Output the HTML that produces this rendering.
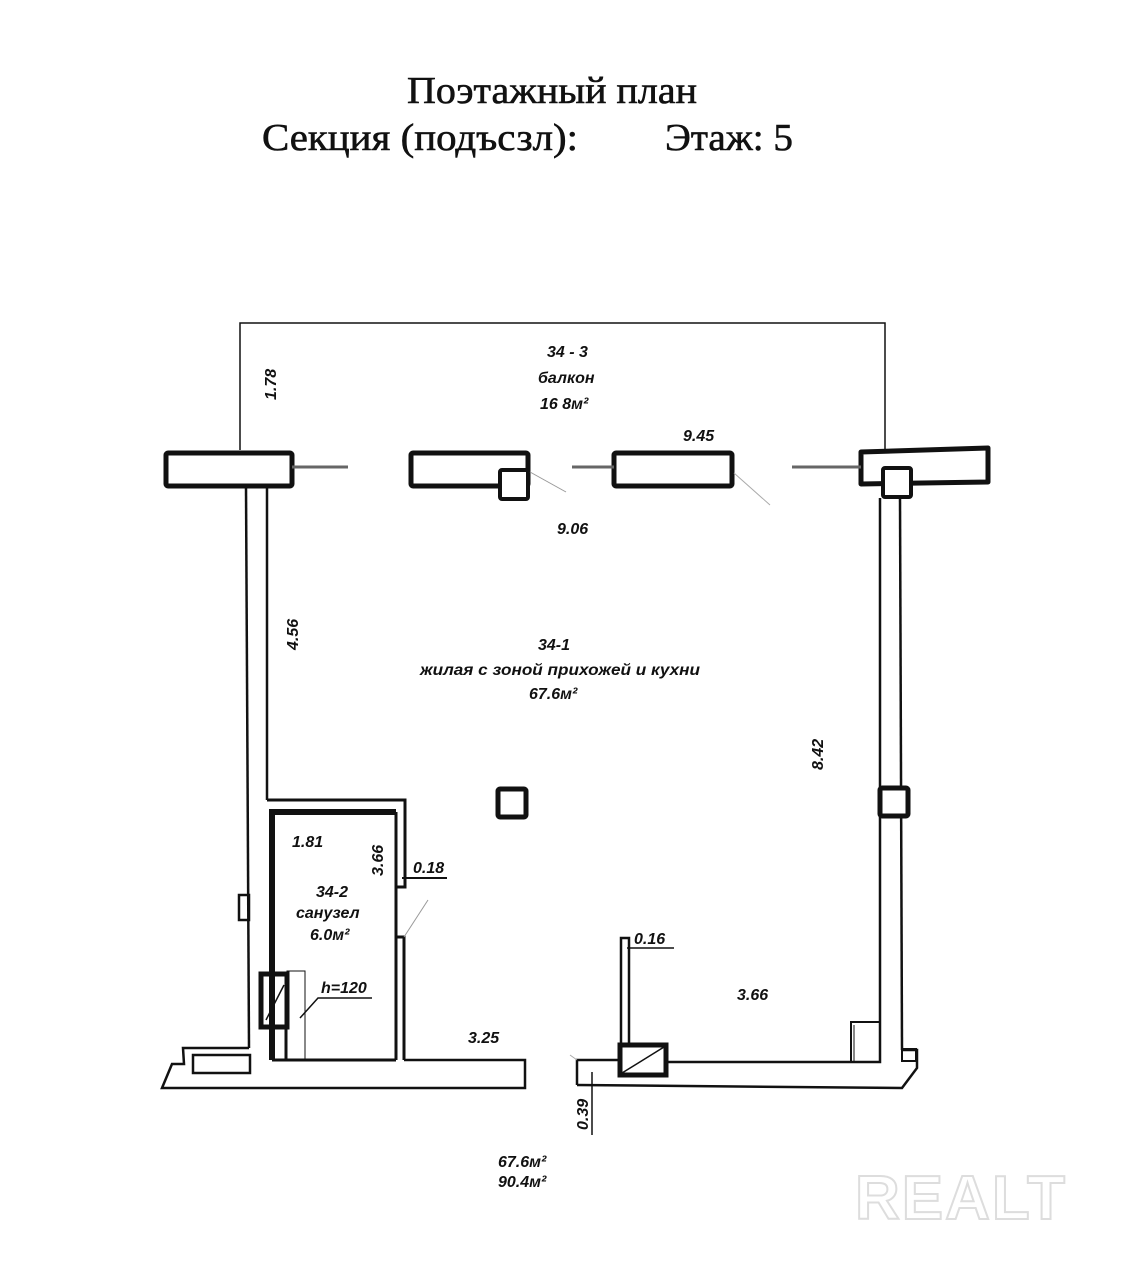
<!DOCTYPE html>
<html><head><meta charset="utf-8"><style>
html,body{margin:0;padding:0;background:#fff;}
svg{display:block}
.t{font-family:"Liberation Serif","Noto Serif CJK SC",serif;font-size:38px;fill:#111;stroke:#111;stroke-width:0.6}
.h{font-family:"Liberation Sans","DejaVu Sans",sans-serif;font-style:italic;font-weight:bold;font-size:16px;fill:#111}
</style></head><body>
<svg width="1135" height="1280" viewBox="0 0 1135 1280" xmlns="http://www.w3.org/2000/svg">
<text class="t" x="407" y="103" textLength="290" lengthAdjust="spacingAndGlyphs">Поэтажный план</text>
<text class="t" x="262" y="150" textLength="316" lengthAdjust="spacingAndGlyphs">Секция (подъсзл):</text>
<text class="t" x="665" y="150" textLength="128" lengthAdjust="spacingAndGlyphs">Этаж: 5</text>

<g fill="none" stroke="#111">
<polyline points="240,450 240,323 885,323 885,450" stroke-width="1.5"/>
<rect x="166" y="453" width="126" height="33" rx="2" stroke-width="5"/>
<rect x="411" y="453" width="117" height="33" rx="2" stroke-width="5"/>
<rect x="500" y="470" width="28" height="29" rx="2" stroke-width="4" fill="#fff"/>
<rect x="614" y="453" width="118" height="33" rx="2" stroke-width="5"/>
<polygon points="861,452 988,448 988,482 861,484" stroke-width="5" stroke-linejoin="round"/>
<rect x="883" y="468" width="28" height="29" rx="2" stroke-width="4" fill="#fff"/>
<line x1="292" y1="467" x2="348" y2="467" stroke="#666" stroke-width="3"/>
<line x1="572" y1="467" x2="614" y2="467" stroke="#666" stroke-width="3"/>
<line x1="792" y1="467" x2="861" y2="467" stroke="#666" stroke-width="3"/>
<line x1="530" y1="472" x2="566" y2="492" stroke="#999" stroke-width="1"/>
<line x1="734" y1="473" x2="770" y2="505" stroke="#aaa" stroke-width="1"/>
<line x1="246" y1="487" x2="249" y2="1048" stroke-width="2.5"/>
<line x1="267" y1="487" x2="267" y2="800" stroke-width="2.5"/>
<polyline points="267,800 405,800 405,887 396,887 396,812" stroke-width="3"/>
<polyline points="272,1060 272,812 396,812" stroke-width="6"/>
<line x1="396" y1="812" x2="396" y2="1060" stroke-width="3"/>
<rect x="239" y="895" width="10" height="25" stroke-width="2.5"/>
<polyline points="396,1060 396,937 404,937 404,1060" stroke-width="3"/>
<line x1="404" y1="937" x2="428" y2="900" stroke="#999" stroke-width="1"/>
<rect x="261" y="974" width="26" height="53" stroke-width="5"/>
<line x1="266" y1="1020" x2="284" y2="985" stroke-width="1.5"/>
<rect x="287" y="971" width="18" height="89" stroke-width="1"/>
<line x1="274" y1="1027" x2="274" y2="1060" stroke-width="2"/>
<line x1="286" y1="1027" x2="286" y2="1060" stroke-width="3"/>
<line x1="272" y1="1060" x2="396" y2="1060" stroke-width="3"/>
<polyline points="300,1018 318,998 372,998" stroke-width="1.5"/>
<polyline points="249,1048 183,1048 184,1064 172,1064 162,1088 525,1088 525,1060 404,1060" stroke-width="2.5"/>
<rect x="193" y="1055" width="57" height="18" stroke-width="2.5"/>
<line x1="402" y1="878" x2="447" y2="878" stroke-width="2"/>
<polyline points="577,1085 577,1060 620,1060" stroke-width="2.5"/>
<polyline points="667,1062 880,1062 880,498" stroke-width="2.5"/>
<polyline points="577,1085 902,1088 917,1068 917,1050 902,1050" stroke-width="2.5"/>
<line x1="900" y1="498" x2="902" y2="1050" stroke-width="2.5"/>
<rect x="620" y="1045" width="46" height="30" stroke-width="5"/>
<line x1="622" y1="1073" x2="664" y2="1047" stroke-width="1.5"/>
<rect x="621" y="938" width="8" height="107" stroke-width="2.5"/>
<polyline points="627,948 674,948" stroke-width="1.5"/>
<rect x="851" y="1022" width="29" height="40" stroke-width="2"/>
<line x1="854" y1="1025" x2="854" y2="1062" stroke-width="1"/>
<rect x="902" y="1049" width="14" height="12" stroke-width="2"/>
<line x1="592" y1="1072" x2="592" y2="1135" stroke-width="1.5"/>
<line x1="570" y1="1055" x2="577" y2="1060" stroke="#aaa" stroke-width="1"/>
<rect x="498" y="789" width="28" height="28" rx="2" stroke-width="5" fill="#fff"/>
<rect x="880" y="788" width="28" height="28" rx="2" stroke-width="5" fill="#fff"/>
</g>

<text class="h" x="547" y="357">34 - 3</text>
<text class="h" x="538" y="383">балкон</text>
<text class="h" x="540" y="409" font-size="14">16 8м²</text>
<text class="h" x="683" y="441">9.45</text>
<text class="h" x="557" y="534" font-size="17">9.06</text>
<text class="h" x="538" y="650" font-size="17">34-1</text>
<text class="h" x="420" y="675" textLength="280" lengthAdjust="spacingAndGlyphs">жилая с зоной прихожей и кухни</text>
<text class="h" x="529" y="699">67.6м²</text>
<text class="h" x="292" y="847">1.81</text>
<text class="h" x="316" y="897">34-2</text>
<text class="h" x="296" y="918">санузел</text>
<text class="h" x="310" y="940">6.0м²</text>
<text class="h" x="321" y="993">h=120</text>
<text class="h" x="413" y="873">0.18</text>
<text class="h" x="634" y="944">0.16</text>
<text class="h" x="468" y="1043" font-size="17">3.25</text>
<text class="h" x="737" y="1000" font-size="17">3.66</text>
<text class="h" x="498" y="1167">67.6м²</text>
<text class="h" x="498" y="1187">90.4м²</text>
<text class="h" transform="translate(276,400) rotate(-90)">1.78</text>
<text class="h" transform="translate(298,650) rotate(-90)">4.56</text>
<text class="h" transform="translate(383,876) rotate(-90)">3.66</text>
<text class="h" transform="translate(823,770) rotate(-90)">8.42</text>
<text class="h" transform="translate(588,1130) rotate(-90)">0.39</text>
<text x="855" y="1219" font-family="Liberation Sans, sans-serif" font-weight="bold" font-size="62" fill="none" stroke="#ddd" stroke-width="2" letter-spacing="2">REALT</text>
</svg>
</body></html>
